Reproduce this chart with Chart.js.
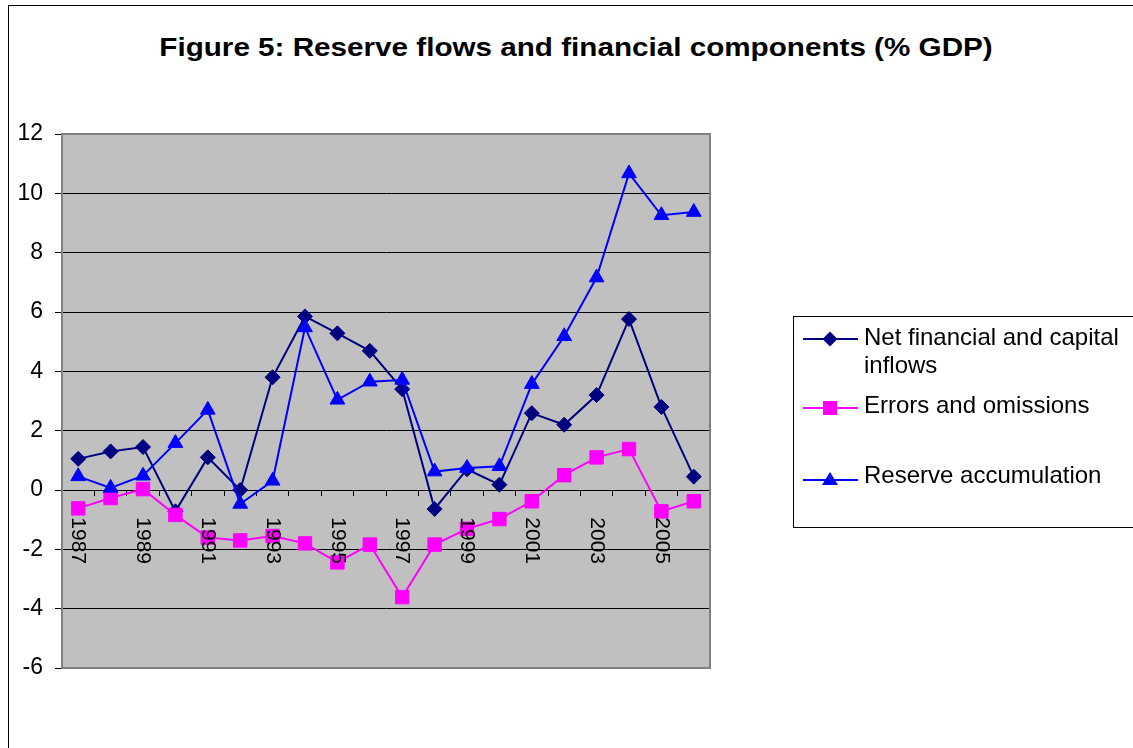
<!DOCTYPE html>
<html><head><meta charset="utf-8">
<script src="https://cdn.jsdelivr.net/npm/chart.js@4.4.1/dist/chart.umd.min.js"></script>
<style>
html,body{margin:0;padding:0;background:#fff;}
#wrap{position:relative;width:1133px;height:748px;overflow:hidden;font-family:"Liberation Sans",Arial,sans-serif;color:#000;}
#frame{position:absolute;left:8px;top:5px;width:1200px;height:800px;border-left:1px solid #000;border-top:1px solid #000;box-sizing:border-box;}
#chartBox{position:absolute;left:0;top:0;width:1133px;height:748px;}
#title{position:absolute;left:0;width:1152px;top:32px;line-height:30px;text-align:center;font-weight:bold;font-size:26px;white-space:nowrap;transform:scaleX(1.14);transform-origin:576px 0;}
#legend{position:absolute;left:793px;top:316px;width:360px;height:212px;border:1px solid #000;box-sizing:border-box;}
.li{position:absolute;left:864px;font-size:24px;line-height:28px;white-space:nowrap;}
.mk{position:absolute;left:801px;}
</style>
</head><body>
<div id="wrap">
  <div id="frame"></div>
  <div id="title">Figure 5: Reserve flows and financial components (% GDP)</div>
  <div id="chartBox"><canvas id="c"></canvas></div>
  <div id="legend"></div>
  <div id="legendItems"></div>
</div>
<script>
// ---- data ----
const years = ["1987","1988","1989","1990","1991","1992","1993","1994","1995","1996","1997","1998","1999","2000","2001","2002","2003","2004","2005","2006"];
const seriesNames = ["Net financial and capital inflows", "Errors and omissions", "Reserve accumulation"];
const netInflows = [1.05,1.3,1.45,-0.72,1.1,0.0,3.8,5.85,5.28,4.69,3.4,-0.64,0.7,0.18,2.59,2.2,3.2,5.76,2.8,0.45];
const errorsOmissions = [-0.62,-0.27,0.03,-0.84,-1.6,-1.7,-1.55,-1.8,-2.44,-1.84,-3.61,-1.84,-1.31,-0.98,-0.38,0.5,1.1,1.38,-0.72,-0.38];
const reserveAccum = [0.46,0.07,0.48,1.58,2.7,-0.47,0.31,5.48,3.04,3.65,3.71,0.62,0.74,0.8,3.57,5.18,7.16,10.67,9.26,9.37];
const yTickMin = -6, yTickMax = 12, yTickStep = 2;

// ---- styles ----
const colors = ["#000080", "#FF00FF", "#0000FF"];
const pointStyles = ["rectRot", "rect", "triangle"];
const pointRadii = [7.5, 9.5, 8.5];

const plotBg = {
  id: 'plotBg',
  beforeDraw(chart) {
    const a = chart.chartArea, ctx = chart.ctx;
    ctx.save(); ctx.fillStyle = '#C0C0C0';
    ctx.fillRect(a.left, a.top, a.right - a.left, a.bottom - a.top);
    ctx.restore();
  },
  beforeDatasetsDraw(chart) {
    const a = chart.chartArea, ctx = chart.ctx;
    ctx.save(); ctx.strokeStyle = '#808080'; ctx.lineWidth = 2;
    ctx.strokeRect(a.left, a.top, a.right - a.left, a.bottom - a.top);
    ctx.restore();
  }
};

const seriesData = [netInflows, errorsOmissions, reserveAccum];
const datasets = seriesData.map((d, i) => ({
  label: seriesNames[i],
  data: d,
  borderColor: colors[i],
  backgroundColor: colors[i],
  pointBackgroundColor: colors[i],
  pointBorderColor: colors[i],
  pointBorderWidth: 1,
  pointStyle: pointStyles[i],
  pointRadius: pointRadii[i],
  pointHoverRadius: pointRadii[i],
  borderWidth: 2,
  tension: 0,
  order: 2 - i
}));

new Chart(document.getElementById('c'), {
  type: 'line',
  data: { labels: years, datasets },
  plugins: [plotBg],
  options: {
    responsive: true,
    maintainAspectRatio: false,
    animation: false,
    layout: { padding: { left: 0, top: 134, right: 423, bottom: 80 } },
    plugins: { legend: { display: false }, title: { display: false }, tooltip: { enabled: false } },
    scales: {
      x: {
        type: 'category',
        offset: true,
        position: { y: 0 },
        border: { display: false },
        grid: { display: true, drawOnChartArea: false, drawTicks: true, tickLength: 6, color: '#000', offset: true },
        ticks: {
          z: 1,
          autoSkip: false,
          minRotation: -90,
          maxRotation: -90,
          padding: 68,
          color: '#000',
          font: { family: 'Liberation Sans', size: 21 },
          callback: function (v, idx) { return idx % 2 === 0 ? years[idx] : ''; }
        }
      },
      y: {
        min: yTickMin,
        max: yTickMax,
        afterFit(scale) { scale.width = 62; },
        border: { display: true, color: '#808080', width: 2 },
        grid: { color: '#000', lineWidth: 1, drawTicks: true, tickLength: 7, tickColor: '#000' },
        ticks: {
          stepSize: yTickStep,
          padding: 12,
          color: '#000',
          font: { family: 'Liberation Sans', size: 23 }
        }
      }
    }
  }
});

// ---- HTML legend built from series names ----
const legendLayout = [
  { lines: ["Net financial and capital", "inflows"], textTop: 323, markY: 339 },
  { lines: ["Errors and omissions"], textTop: 391, markY: 408 },
  { lines: ["Reserve accumulation"], textTop: 461, markY: 480 }
];
const li = document.getElementById('legendItems');
legendLayout.forEach((e, i) => {
  const t = document.createElement('div');
  t.className = 'li';
  t.style.top = e.textTop + 'px';
  t.innerHTML = e.lines.join('<br>');
  li.appendChild(t);
  const c = colors[i];
  let shape = '';
  if (pointStyles[i] === 'rectRot') shape = `<polygon points="29,2.5 36.5,10 29,17.5 21.5,10" fill="${c}"/>`;
  else if (pointStyles[i] === 'rect') shape = `<rect x="22" y="3" width="14" height="14" fill="${c}"/>`;
  else shape = `<polygon points="29,2 37,15 21,15" fill="${c}"/>`;
  const m = document.createElement('div');
  m.className = 'mk';
  m.style.top = (e.markY - 10) + 'px';
  m.innerHTML = `<svg width="60" height="20"><line x1="2" y1="10" x2="57" y2="10" stroke="${c}" stroke-width="2"/>${shape}</svg>`;
  li.appendChild(m);
});
</script>
</body></html>
